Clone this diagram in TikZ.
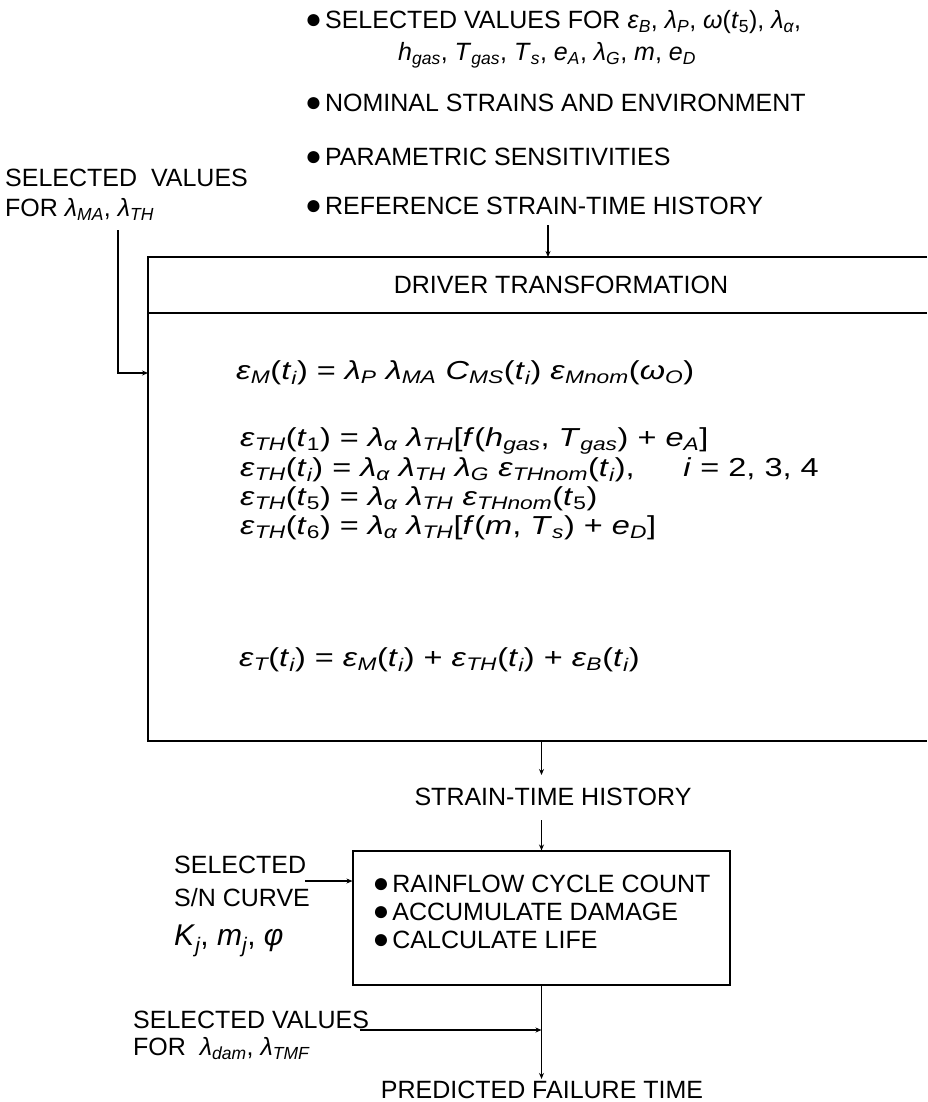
\documentclass[tikz,border=0pt]{standalone}
\usepackage{fontspec}
\usepackage{graphicx}
\setmainfont{Liberation Sans}
\usetikzlibrary{arrows.meta}
\newcommand\mi[1]{\textit{#1}}
\newcommand\isub[1]{\textsubscript{\itshape #1}}
\newcommand\usub[1]{\textsubscript{#1}}
\newcommand\bul{{\fontsize{28}{28}\selectfont ●}\hspace{3pt}}
\newcommand\eqx[1]{\scalebox{1.25}[1]{#1}}
\begin{document}
\begin{tikzpicture}[x=1pt,y=-1pt,
  every node/.style={font=\fontsize{25}{30}\selectfont, inner sep=0pt},
  lbl/.style={anchor=west},
  eqn/.style={anchor=west,font=\fontsize{26}{26}\selectfont},
  conn/.style={line width=1.1pt},
  arr/.style={conn,-{Stealth[length=6pt,width=5pt]}},
  procbox/.style={draw,line width=1.1pt,minimum width=377pt,minimum height=134pt,align=left,font=\fontsize{25}{28}\selectfont}]
\useasboundingbox (0,0) rectangle (927,1102);
% top inputs
\node[lbl] (s1) at (305,22) {\bul SELECTED VALUES FOR \mi{ε}\isub{B}, \mi{λ}\isub{P}, \mi{ω}(\mi{t}\usub{5}), \mi{λ}\isub{α},};
\node[lbl] (s2) at (398,55) {\mi{h}\isub{gas}, \mi{T}\isub{gas}, \mi{T}\isub{s}, \mi{e}\isub{A}, \mi{λ}\isub{G}, \mi{m}, \mi{e}\isub{D}};
\node[lbl] (s3) at (305,103) {\bul NOMINAL STRAINS AND ENVIRONMENT};
\node[lbl] (s4) at (305,157) {\bul PARAMETRIC SENSITIVITIES};
\node[lbl] (s5) at (305,206) {\bul REFERENCE STRAIN-TIME HISTORY};
% left input
\node[anchor=north west,align=left] (lv) at (5,169) {SELECTED\ \ VALUES\\FOR \mi{λ}\isub{MA}, \mi{λ}\isub{TH}};
% big box
\coordinate (bTL) at (148,257);
\coordinate (bTR) at (927,257);
\coordinate (bDL) at (148,313);
\coordinate (bDR) at (927,313);
\coordinate (bBL) at (148,741);
\coordinate (bBR) at (927,741);
\draw[conn] (bTR) -- (bTL) -- (bBL) -- (bBR);
\draw[conn] (bDL) -- (bDR);
\node (drv) at (561,285) {DRIVER TRANSFORMATION};
\coordinate (refA) at (548,225);
\draw[arr] (refA) -- (refA |- bTL);
\coordinate (lvA) at (118,230);
\coordinate (bIn) at (148,373);
\draw[arr] (lvA) |- (bIn);
% equations
\node[eqn] (eM) at (236,373) {\eqx{\mi{ε}\isub{M}(\mi{t}\isub{i}) = \mi{λ}\isub{P} \mi{λ}\isub{MA} \mi{C}\isub{MS}(\mi{t}\isub{i}) \mi{ε}\isub{Mnom}(\mi{ω}\isub{O})}};
\node[eqn] (e1) at (240,441) {\eqx{\mi{ε}\isub{TH}(\mi{t}\usub{1}) = \mi{λ}\isub{α} \mi{λ}\isub{TH}[\mi{f}(\mi{h}\isub{gas}, \mi{T}\isub{gas}) + \mi{e}\isub{A}]}};
\node[eqn] (e2) at (240,470) {\eqx{\mi{ε}\isub{TH}(\mi{t}\isub{i}) = \mi{λ}\isub{α} \mi{λ}\isub{TH} \mi{λ}\isub{G} \mi{ε}\isub{THnom}(\mi{t}\isub{i}),\hspace{1.5em}\mi{i} = 2, 3, 4}};
\node[eqn] (e3) at (240,499) {\eqx{\mi{ε}\isub{TH}(\mi{t}\usub{5}) = \mi{λ}\isub{α} \mi{λ}\isub{TH} \mi{ε}\isub{THnom}(\mi{t}\usub{5})}};
\node[eqn] (e4) at (240,528) {\eqx{\mi{ε}\isub{TH}(\mi{t}\usub{6}) = \mi{λ}\isub{α} \mi{λ}\isub{TH}[\mi{f}(\mi{m}, \mi{T}\isub{s}) + \mi{e}\isub{D}]}};
\node[eqn] (eT) at (239,660) {\eqx{\mi{ε}\isub{T}(\mi{t}\isub{i}) = \mi{ε}\isub{M}(\mi{t}\isub{i}) + \mi{ε}\isub{TH}(\mi{t}\isub{i}) + \mi{ε}\isub{B}(\mi{t}\isub{i})}};
% lower part
\node (sth) at (553,797) {STRAIN-TIME HISTORY};
\node[procbox] (lb) at (541.5,918) {\bul RAINFLOW CYCLE COUNT\\\bul ACCUMULATE DAMAGE\\\bul CALCULATE LIFE\\[-16pt]\mbox{}};
\coordinate (a1e) at (541.5,775);
\draw[arr] (lb.north |- bBL) -- (a1e);
\coordinate (a2s) at (541.5,820);
\draw[arr] (a2s) -- (lb.north);
\node[anchor=north west,align=left] (sn) at (174,856) {SELECTED\\[3pt]S/N CURVE\\[9pt]{\fontsize{30}{30}\selectfont\mi{K}\isub{j}, \mi{m}\isub{j}, \mi{φ}}};
\coordinate (snA) at (305,881);
\draw[arr] (snA) -- (snA -| lb.west);
\node[anchor=north west,align=left,font=\fontsize{25}{27}\selectfont] (bv) at (133,1011) {SELECTED VALUES\\FOR \ \mi{λ}\isub{dam}, \mi{λ}\isub{TMF}};
\coordinate (bvA) at (360,1030);
\draw[arr] (bvA) -- (bvA -| lb.south);
\node (pft) at (542,1090) {PREDICTED FAILURE TIME};
\draw[arr,shorten >=2pt] (lb.south) -- (lb.south |- pft.north);
\end{tikzpicture}
\end{document}
